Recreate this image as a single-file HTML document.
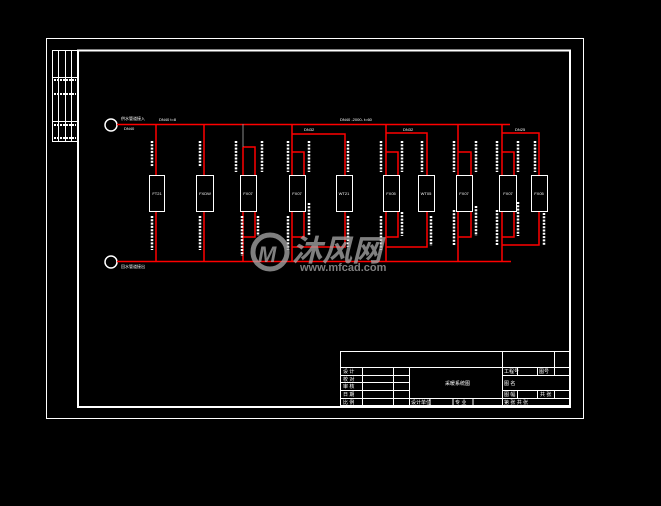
<!DOCTYPE html>
<html><head><meta charset="utf-8"><style>
html,body{margin:0;padding:0;background:#000;}
svg{display:block;}
</style></head><body>
<svg width="661" height="506" viewBox="0 0 661 506" xmlns="http://www.w3.org/2000/svg" font-family="Liberation Sans, Noto Sans CJK SC, sans-serif">
<rect width="661" height="506" fill="#000"/>
<!-- borders -->
<rect x="46.5" y="38.5" width="537" height="380" fill="none" stroke="#fff" stroke-width="1"/>
<rect x="78" y="50.5" width="492" height="356.5" fill="none" stroke="#fff" stroke-width="2"/>
<g stroke="#fff" stroke-width="1" fill="none">
<rect x="52.5" y="50.5" width="25" height="91"/>
<line x1="58.5" y1="50" x2="58.5" y2="142"/><line x1="65.5" y1="50" x2="65.5" y2="142"/><line x1="71.5" y1="50" x2="71.5" y2="142"/>
<line x1="52" y1="77.5" x2="78" y2="77.5"/><line x1="52" y1="121.5" x2="78" y2="121.5"/>
</g>
<g stroke="#fff" stroke-width="2" stroke-dasharray="2 1">
<line x1="54" y1="80" x2="76" y2="80"/><line x1="54" y1="94" x2="76" y2="94"/>
<line x1="54" y1="125" x2="76" y2="125"/><line x1="54" y1="138" x2="76" y2="138"/>
</g>
<!-- title block -->
<g stroke="#fff" stroke-width="1" fill="none">
<rect x="340.5" y="351.5" width="229" height="54"/>
<line x1="340" y1="367.5" x2="502" y2="367.5"/>
<line x1="340" y1="375.5" x2="409" y2="375.5"/>
<line x1="340" y1="382.5" x2="409" y2="382.5"/>
<line x1="340" y1="390.5" x2="409" y2="390.5"/>
<line x1="340" y1="398.5" x2="570" y2="398.5"/>
<line x1="502" y1="367.5" x2="570" y2="367.5"/>
<line x1="502" y1="375.5" x2="570" y2="375.5"/>
<line x1="502" y1="390.5" x2="570" y2="390.5"/>
<line x1="362.5" y1="367" x2="362.5" y2="406"/>
<line x1="393.5" y1="367" x2="393.5" y2="406"/>
<line x1="409.5" y1="367" x2="409.5" y2="406"/>
<line x1="502.5" y1="351" x2="502.5" y2="406"/>
<line x1="517.5" y1="367" x2="517.5" y2="375"/><line x1="517.5" y1="390" x2="517.5" y2="398"/>
<line x1="537.5" y1="367" x2="537.5" y2="375"/><line x1="537.5" y1="390" x2="537.5" y2="398"/>
<line x1="554.5" y1="351" x2="554.5" y2="375"/><line x1="554.5" y1="390" x2="554.5" y2="398"/>
<line x1="430" y1="398" x2="430" y2="406"/><line x1="453" y1="398" x2="453" y2="406"/><line x1="473" y1="398" x2="473" y2="406"/>
</g>
<g fill="#fff" font-size="5">
<text x="343" y="373">设 计</text><text x="343" y="381">校 对</text><text x="343" y="388">审 核</text><text x="343" y="396">日 期</text><text x="343" y="404">比 例</text>
<text x="445" y="385">采暖系统图</text>
<text x="504" y="373">工程号</text><text x="539" y="373">图号</text><text x="504" y="385">图 名</text>
<text x="504" y="396">图 幅</text><text x="540" y="396">共 张</text><text x="504" y="404">第 张 共 张</text>
<text x="411" y="404">设计单位</text><text x="455" y="404">专 业</text>
</g>
<!-- circles -->
<circle cx="111" cy="125" r="6" fill="none" stroke="#fff" stroke-width="1.5"/>
<circle cx="111" cy="262" r="6" fill="none" stroke="#fff" stroke-width="1.5"/>
<!-- red pipes -->
<g stroke="#f00" stroke-width="1.5" fill="none">
<line x1="117" y1="124.5" x2="510" y2="124.5"/>
<line x1="117" y1="261.5" x2="511" y2="261.5"/>
<line x1="156" y1="124" x2="156" y2="261"/>
<line x1="204" y1="124" x2="204" y2="261"/>
<line x1="243" y1="147" x2="243" y2="261"/>
<polyline points="243,147 255,147 255,176"/><polyline points="255,212 255,237 243,237"/>
<line x1="292" y1="124" x2="292" y2="261"/>
<polyline points="292,134 345,134 345,176"/><polyline points="345,212 345,247 292,247"/>
<polyline points="292,152 304,152 304,176"/><polyline points="304,212 304,237 292,237"/>
<line x1="386" y1="124" x2="386" y2="261"/>
<polyline points="386,133 427,133 427,176"/><polyline points="427,212 427,247 386,247"/>
<polyline points="386,152 398,152 398,176"/><polyline points="398,212 398,237 386,237"/>
<line x1="458" y1="124" x2="458" y2="261"/>
<polyline points="458,152 471,152 471,176"/><polyline points="471,212 471,237 458,237"/>
<line x1="502" y1="124" x2="502" y2="261"/>
<polyline points="502,133 539,133 539,176"/><polyline points="539,212 539,245 502,245"/>
<polyline points="502,152 514,152 514,176"/><polyline points="514,212 514,237 502,237"/>
</g>
<line x1="243" y1="124" x2="243" y2="147" stroke="#888" stroke-width="1"/>
<!-- boxes -->
<g fill="#000" stroke="#fff" stroke-width="1">
<rect x="149.5" y="175.5" width="15" height="36"/>
<rect x="196.5" y="175.5" width="17" height="36"/>
<rect x="240.5" y="175.5" width="16" height="36"/>
<rect x="289.5" y="175.5" width="16" height="36"/>
<rect x="336.5" y="175.5" width="16" height="36"/>
<rect x="383.5" y="175.5" width="16" height="36"/>
<rect x="418.5" y="175.5" width="16" height="36"/>
<rect x="456.5" y="175.5" width="16" height="36"/>
<rect x="499.5" y="175.5" width="17" height="36"/>
<rect x="531.5" y="175.5" width="16" height="36"/>
</g>
<g fill="#fff" font-size="4" text-anchor="middle">
<text x="157" y="195">FT21</text><text x="205" y="195">FXDW</text><text x="248" y="195">FX07</text><text x="297" y="195">FX07</text>
<text x="344" y="195">WT21</text><text x="391" y="195">FX05</text><text x="426" y="195">WT05</text><text x="464" y="195">FX07</text>
<text x="508" y="195">FX07</text><text x="539" y="195">FX05</text>
</g>
<!-- label dashes -->
<g stroke="#fff" stroke-width="2.5" stroke-dasharray="2 1.3">
<line x1="152" y1="141" x2="152" y2="166"/><line x1="152" y1="216" x2="152" y2="250"/>
<line x1="200" y1="141" x2="200" y2="166"/><line x1="200" y1="216" x2="200" y2="250"/>
<line x1="236" y1="141" x2="236" y2="172"/><line x1="262" y1="141" x2="262" y2="172"/><line x1="242" y1="216" x2="242" y2="256"/><line x1="258" y1="216" x2="258" y2="236"/>
<line x1="288" y1="141" x2="288" y2="172"/><line x1="309" y1="141" x2="309" y2="172"/><line x1="288" y1="216" x2="288" y2="250"/><line x1="309" y1="203" x2="309" y2="236"/>
<line x1="348" y1="141" x2="348" y2="172"/><line x1="348" y1="216" x2="348" y2="247"/>
<line x1="381" y1="141" x2="381" y2="172"/><line x1="402" y1="141" x2="402" y2="172"/><line x1="381" y1="216" x2="381" y2="250"/><line x1="402" y1="212" x2="402" y2="236"/>
<line x1="422" y1="141" x2="422" y2="172"/><line x1="431" y1="216" x2="431" y2="246"/>
<line x1="454" y1="141" x2="454" y2="172"/><line x1="476" y1="141" x2="476" y2="172"/><line x1="454" y1="210" x2="454" y2="246"/><line x1="476" y1="206" x2="476" y2="236"/>
<line x1="497" y1="141" x2="497" y2="172"/><line x1="518" y1="141" x2="518" y2="172"/><line x1="497" y1="210" x2="497" y2="246"/><line x1="518" y1="202" x2="518" y2="236"/>
<line x1="535" y1="141" x2="535" y2="172"/><line x1="544" y1="213" x2="544" y2="246"/>
</g>
<g fill="#fff" font-size="4">
<text x="121" y="120">供水管道接入</text><text x="124" y="130">DN40</text>
<text x="159" y="121">DN40 t=8</text><text x="340" y="121">DN40 -2000- t=60</text>
<text x="304" y="131">DN32</text><text x="403" y="131">DN32</text><text x="515" y="131">DN25</text>
<text x="121" y="268">回水管道接出</text>
</g>
<!-- watermark -->
<g opacity="0.75">
<circle cx="270" cy="252" r="17" fill="none" stroke="#aaa" stroke-width="5"/>
<text x="258" y="262" font-size="22" font-weight="bold" fill="#aaa" font-style="italic">M</text>
<text x="292" y="261" font-size="30" font-weight="bold" fill="#aaa" font-family="Noto Sans CJK SC, sans-serif" font-style="italic">沐风网</text>
<text x="300" y="271" font-size="11" font-weight="bold" fill="#aaa">www.mfcad.com</text>
</g>
</svg>
</body></html>
